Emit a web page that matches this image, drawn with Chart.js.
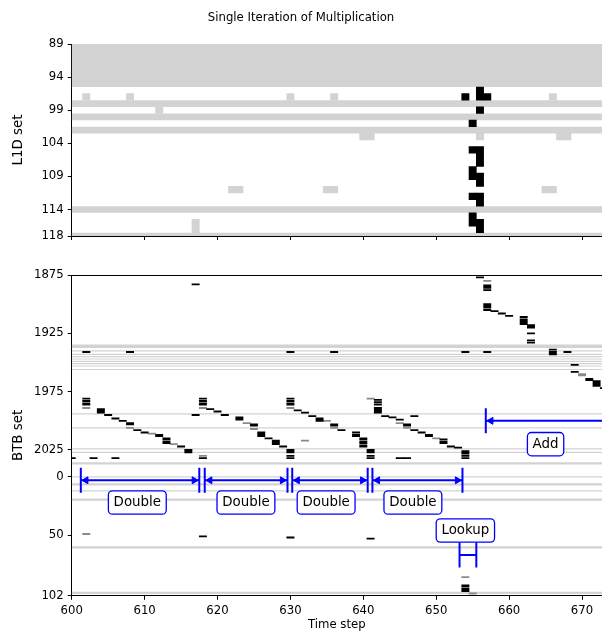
<!DOCTYPE html>
<html><head><meta charset="utf-8">
<script src="https://cdn.jsdelivr.net/npm/chart.js@4"></script>
<style>
html,body{margin:0;padding:0;background:#fff;width:602px;height:631px;overflow:hidden;}
#top{position:absolute;left:0;top:0;width:602px;height:250px;}
#bot{position:absolute;left:0;top:250px;width:602px;height:381px;}
</style></head><body>
<div id="top"><canvas id="c1"></canvas></div>
<div id="bot"><canvas id="c2"></canvas></div>
<script>
// ---------------- data ----------------
const chartTitle = 'Single Iteration of Multiplication';
const timeTicks = [600, 610, 620, 630, 640, 650, 660, 670];
const l1dTicks = [89, 94, 99, 104, 109, 114, 118];
const btbTicks = [1875, 1925, 1975, 2025, 0, 50, 102];

// L1D: full-width light-gray rows [from, to]
const l1dGrayRows = [[89, 95], [98, 98], [100, 100], [102, 102], [114, 114], [118, 118]];
// L1D: light-gray cells [time, fromSet, toSet]
const l1dGrayCells = [[602,97,97],[608,97,97],[630,97,97],[636,97,97],[666,97,97],[612,99,99],
  [640,103,103],[641,103,103],[656,103,103],[667,103,103],[668,103,103],
  [622,111,111],[623,111,111],[635,111,111],[636,111,111],[665,111,111],[666,111,111],[617,116,117]];
// L1D: black cells [time, fromSet, toSet]
const l1dBlackCells = [[654,97,97],[656,96,97],[657,97,97],[656,99,99],[655,101,101],[655,105,105],
  [656,105,107],[655,108,109],[656,109,110],[655,112,112],[656,112,113],[655,115,116],[656,116,117]];

// BTB: full-width light-gray rows [from, to] (sets 0..102 follow 2047)
const btbGrayRows = [[1935,1937],[1940,1940],[1943,1943],[1945,1945],[1947,1947],[1949,1949],[1951,1951],
  [1953,1953],[1956,1956],[1994,1994],[2006,2006],[2024,2024],[2027,2027],[2036,2037],
  [0,0],[6,7],[12,12],[19,20],[60,61],[99,100]];
// BTB: black cells [time, fromSet, toSet]
const btbBlackCells = [
  [600,2032,2032],[602,1941,1941],[602,1981,1981],[602,1983,1983],[602,1985,1986],[603,2032,2032],
  [604,1990,1993],[605,1995,1995],[606,1998,1998],[606,2032,2032],[607,2000,2000],[608,1941,1941],
  [608,2002,2003],[609,2008,2008],[610,2010,2010],[612,2012,2013],[613,2015,2016],[613,2018,2019],
  [615,2022,2022],[616,2025,2027],[617,1883,1883],[617,1995,1995],
  [618,1981,1981],[618,1983,1983],[618,1985,1986],[618,2032,2032],[618,51,51],[619,1990,1990],
  [620,1992,1992],[621,1995,1995],[623,1997,1999],[625,2003,2004],[626,2010,2013],[627,2015,2015],
  [628,2017,2020],[629,2022,2022],
  [630,1941,1941],[630,1981,1981],[630,1983,1983],[630,1985,1986],[630,2025,2027],[630,2030,2030],
  [630,2032,2032],[630,52,52],[631,1991,1991],[632,1993,1993],[633,1996,1996],[634,1998,2000],
  [636,1941,1941],[636,2003,2004],[637,2008,2008],[639,2010,2010],[639,2012,2013],[640,2015,2016],
  [640,2018,2019],[640,2021,2022],[641,2025,2027],[641,2030,2030],[641,2032,2032],[641,53,53],
  [642,1982,1982],[642,1984,1984],[642,1986,1986],[642,1989,1993],[643,1996,1996],[644,1997,1997],
  [645,1999,1999],[645,2032,2032],[646,2003,2004],[646,2032,2032],[647,1996,1996],[647,2008,2008],
  [648,2010,2010],[649,2012,2013],[651,2016,2016],[651,2018,2019],[652,2022,2022],[653,2023,2023],
  [654,1941,1941],[654,2026,2028],[654,2030,2030],[654,2032,2032],[654,93,94],[654,96,98],
  [656,1877,1877],[657,1884,1886],[657,1888,1888],[657,1900,1903],[657,1905,1905],[657,1941,1941],
  [658,1906,1906],[659,1908,1908],[660,1910,1910],[662,1911,1911],[662,1913,1917],[663,1918,1920],
  [663,1925,1925],[663,1931,1931],[663,1933,1933],[666,1939,1939],[666,1941,1943],[668,1941,1941],
  [669,1952,1952],[669,1958,1958],[671,1964,1965],[672,1966,1970],[673,1972,1972]];
// BTB: dim (gray) cells [time, fromSet, toSet]
const btbDimCells = [[602,1989,1989],[602,49,49],[608,2006,2006],[611,2011,2011],[614,2020,2020],
  [618,1989,1989],[618,2030,2030],[624,2002,2002],[625,2007,2007],[630,1989,1989],[632,2017,2017],
  [635,2000,2000],[636,2006,2006],[641,1981,1981],[645,2002,2002],[646,2006,2006],[650,2015,2015],
  [654,86,86],[655,100,100],[657,1880,1880],[670,1960,1961]];

// annotations (time steps)
const doubleSpans = [[601.25, 617.5], [618.25, 629.6], [630.25, 640.6], [641.25, 653.6]];
const doubleLabelX = [609.0, 623.9, 634.9, 646.8];
const lookupSpan = [653.2, 655.5];
const lookupLabelX = 654.0;
const addStart = 656.8;
const addLabelX = 665.0;

// ---------------- helpers ----------------
const FONT = "'DejaVu Sans', sans-serif";
Chart.defaults.font.family = FONT;
Chart.defaults.color = '#000';
const BLUE = '#0000ff';
const LIGHT = '#d3d3d3';
const BTB_SIZE = 2048;
const unwrap = v => (v < 1000 ? v + BTB_SIZE : v);
const ident = v => v;
const X_MIN = 600, X_MAX = 672.74;
const AXIS_LEFT = 71.7;
const TICK_FONT = {family: FONT, size: 11.7};
const LABEL_FONT = {family: FONT, size: 13.4};

function cellBars(cells, color, mapY, order) {
  return {
    type: 'bar',
    data: cells.map(([t, a, b]) => ({x: t, y: [mapY(a) - 0.5, mapY(b) + 0.5]})),
    backgroundColor: color, borderWidth: 0, grouped: false,
    barPercentage: 1, categoryPercentage: 1, order: order
  };
}
function rowBand([a, b], color, mapY) {
  return {
    type: 'line',
    data: [{x: 590, y: mapY(b) + 0.5}, {x: 690, y: mapY(b) + 0.5}],
    fill: {value: mapY(a) - 0.5},
    backgroundColor: color, borderColor: 'rgba(0,0,0,0)', borderWidth: 0,
    pointRadius: 0, order: 10
  };
}
function seg(points) {
  return {type: 'line', data: points, borderColor: BLUE, borderWidth: 2, pointRadius: 0,
          fill: false, tension: 0, order: -1};
}
function heads(points, rotations) {
  return {type: 'line', data: points, showLine: false, pointStyle: 'triangle', pointRadius: 4,
          pointRotation: rotations, pointBackgroundColor: BLUE, pointBorderColor: BLUE,
          pointBorderWidth: 1, fill: false, order: -1};
}
const CAP = 10.7;      // half length of end bars (set units)
const HEAD_OFF = 0.7;  // arrow head offset (time units)
function bracket(x0, x1, y, withHeads) {
  const ds = [
    seg([{x: x0, y: y - CAP}, {x: x0, y: y + CAP}]),
    seg([{x: x1, y: y - CAP}, {x: x1, y: y + CAP}]),
    seg([{x: x0, y: y}, {x: x1, y: y}])
  ];
  if (withHeads) ds.push(heads([{x: x0 + HEAD_OFF, y: y}, {x: x1 - HEAD_OFF, y: y}], [270, 90]));
  return ds;
}

function xScale(showLabels, height, titleText) {
  return {
    type: 'linear', min: X_MIN, max: X_MAX, offset: false, position: 'bottom',
    afterBuildTicks: s => { s.ticks = timeTicks.map(v => ({value: v})); },
    afterFit: s => { s.height = height; s.paddingLeft = 0; s.paddingRight = 0; },
    ticks: {display: showLabels, font: TICK_FONT, padding: 4, autoSkip: false, maxRotation: 0,
            callback: v => String(v)},
    grid: {display: true, drawOnChartArea: false, drawTicks: true, tickLength: 4, color: '#000', offset: false},
    border: {display: true, color: '#000', width: 1},
    title: {display: !!titleText, text: titleText || '', font: TICK_FONT, padding: {top: 0, bottom: -1}}
  };
}
function topSpine(height) {
  return {
    type: 'linear', min: X_MIN, max: X_MAX, position: 'top', offset: false,
    afterFit: s => { s.height = height; s.paddingLeft = 0; s.paddingRight = 0; },
    ticks: {display: false}, grid: {display: false},
    border: {display: true, color: '#000', width: 1}
  };
}
function yScale(min, max, tickVals, fmt, titleText) {
  return {
    type: 'linear', min: min, max: max, reverse: true,
    afterBuildTicks: s => { s.ticks = tickVals.map(v => ({value: v})); },
    afterFit: s => { s.width = AXIS_LEFT; },
    ticks: {font: TICK_FONT, padding: 4, autoSkip: false, callback: fmt},
    grid: {display: true, drawOnChartArea: false, drawTicks: true, tickLength: 4, color: '#000'},
    border: {display: true, color: '#000', width: 1},
    title: {display: true, text: titleText, font: LABEL_FONT, padding: {top: 10.6, bottom: 0}}
  };
}

// ---------------- top chart (L1D) ----------------
const topDatasets = [
  ...l1dGrayRows.map(r => rowBand(r, LIGHT, ident)),
  cellBars(l1dGrayCells, LIGHT, ident, 8),
  cellBars(l1dBlackCells, '#000', ident, 5)
];
new Chart(document.getElementById('c1'), {
  type: 'bar',
  data: {datasets: topDatasets},
  options: {
    responsive: true, maintainAspectRatio: false, animation: false, events: [], devicePixelRatio: 1,
    layout: {autoPadding: false, padding: {left: 0, right: 0, top: 0, bottom: 0}},
    plugins: {
      legend: {display: false}, tooltip: {enabled: false},
      title: {display: true, text: chartTitle, color: '#000',
              font: {family: FONT, size: 11.7, weight: 'normal'}, padding: {top: 10.5, bottom: 19.46}}
    },
    scales: {
      x: xScale(false, 14, null),
      x2: topSpine(0),
      y: yScale(89, 118, l1dTicks, v => String(v), 'L1D set')
    }
  }
});

// ---------------- bottom chart (BTB) ----------------
const labelBoxes = {
  id: 'labelBoxes',
  afterDatasetsDraw(chart, args, opts) {
    const {ctx} = chart;
    const xs = chart.scales.x, ys = chart.scales.y;
    ctx.save();
    ctx.font = LABEL_FONT.size + 'px ' + FONT;
    ctx.textAlign = 'center';
    ctx.textBaseline = 'middle';
    for (const L of opts.items) {
      const cx = xs.getPixelForValue(L.x), cy = ys.getPixelForValue(L.y);
      const w = ctx.measureText(L.text).width + 10.4, h = 23.3, r = 4;
      const x0 = cx - w / 2, y0 = cy - h / 2;
      ctx.beginPath();
      ctx.moveTo(x0 + r, y0);
      ctx.arcTo(x0 + w, y0, x0 + w, y0 + h, r);
      ctx.arcTo(x0 + w, y0 + h, x0, y0 + h, r);
      ctx.arcTo(x0, y0 + h, x0, y0, r);
      ctx.arcTo(x0, y0, x0 + w, y0, r);
      ctx.closePath();
      ctx.fillStyle = '#fff';
      ctx.fill();
      ctx.lineWidth = 1.3;
      ctx.strokeStyle = BLUE;
      ctx.stroke();
      ctx.fillStyle = '#000';
      ctx.fillText(L.text, cx, cy + 0.5);
    }
    ctx.restore();
  }
};

const DOUBLE_Y = unwrap(3), DOUBLE_LABEL_Y = unwrap(22);
const LOOKUP_Y = unwrap(67), LOOKUP_LABEL_Y = unwrap(46);
const ADD_Y = 2000, ADD_LABEL_Y = 2020;

const botDatasets = [
  ...btbGrayRows.map(r => rowBand(r, LIGHT, unwrap)),
  cellBars(btbDimCells, '#8a8a8a', unwrap, 6),
  cellBars(btbBlackCells, '#000', unwrap, 5),
  ...doubleSpans.flatMap(([a, b]) => bracket(a, b, DOUBLE_Y, true)),
  ...bracket(lookupSpan[0], lookupSpan[1], LOOKUP_Y, false),
  seg([{x: addStart, y: ADD_Y - CAP}, {x: addStart, y: ADD_Y + CAP}]),
  seg([{x: addStart, y: ADD_Y}, {x: 690, y: ADD_Y}]),
  heads([{x: addStart + HEAD_OFF, y: ADD_Y}], [270])
];
const labelItems = [
  ...doubleLabelX.map(x => ({text: 'Double', x: x, y: DOUBLE_LABEL_Y})),
  {text: 'Lookup', x: lookupLabelX, y: LOOKUP_LABEL_Y},
  {text: 'Add', x: addLabelX, y: ADD_LABEL_Y}
];
new Chart(document.getElementById('c2'), {
  type: 'bar',
  data: {datasets: botDatasets},
  plugins: [labelBoxes],
  options: {
    responsive: true, maintainAspectRatio: false, animation: false, events: [], devicePixelRatio: 1,
    layout: {autoPadding: false, padding: {left: 0, right: 0, top: 13, bottom: 0}},
    plugins: {
      legend: {display: false}, tooltip: {enabled: false},
      labelBoxes: {items: labelItems}
    },
    scales: {
      x: xScale(true, 35.2, 'Time step'),
      x2: topSpine(12),
      y: yScale(1875, 2150, btbTicks.map(unwrap), v => String(v >= BTB_SIZE ? v - BTB_SIZE : v), 'BTB set')
    }
  }
});
</script></body></html>
